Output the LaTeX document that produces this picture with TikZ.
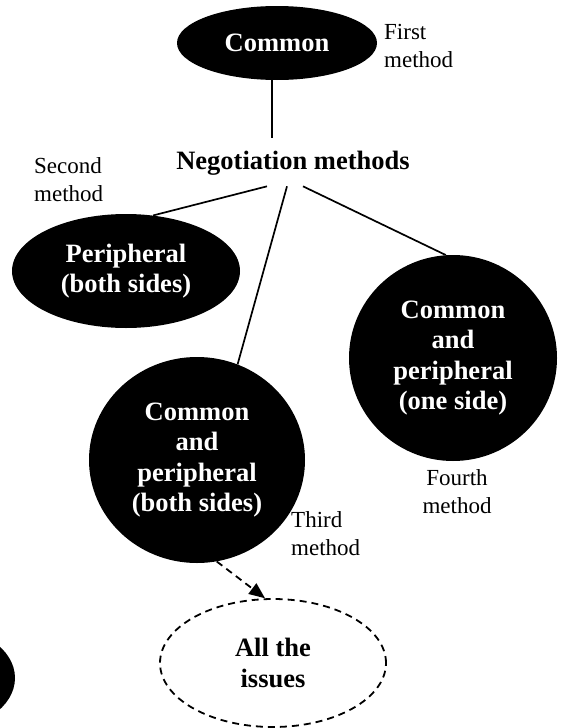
\documentclass[tikz,border=0pt]{standalone}
\usepackage{fontspec}
\setmainfont{Liberation Serif}
\usetikzlibrary{positioning,calc,arrows,arrows.meta,shapes.geometric}
\tikzset{font=\fontsize{23}{28}\selectfont}

\begin{document}
\begin{tikzpicture}[x=1pt,y=-1pt]
	\useasboundingbox (0,0) rectangle (560,728);
	\begin{scope}
		\tikzstyle{every node}=[align=center, inner sep=1pt]
		\tikzstyle{blob}=[ellipse, fill=black, text=white, inner sep=0pt, font=\fontsize{26.5}{30.5}\selectfont\bfseries]
		\tikzstyle{note}=[align=left]
		\tikzstyle{dashline}=[line width=1.8pt, dash pattern=on 7pt off 5pt]
		\node[blob, minimum width=200pt, minimum height=74pt] (common) at (277, 43) {Common};
		\node[font=\fontsize{26.5}{30.5}\selectfont\bfseries] (nego) at (293, 163) {Negotiation methods};
		\node[blob, minimum width=228pt, minimum height=114pt] (periph) at (126, 271) {Peripheral\\(both sides)};
		\node[blob, minimum width=216pt, minimum height=206pt] (both) at (197, 460) {Common\\and\\peripheral\\(both sides)};
		\node[blob, minimum width=208pt, minimum height=206pt] (one) at (453, 358) {Common\\and\\peripheral\\(one side)};
		\node[ellipse, draw, dashline, minimum width=226pt, minimum height=128pt, font=\fontsize{26.5}{30.5}\selectfont\bfseries] (issues) at (273, 663) {All the\\issues};

		\node[note, anchor=west] (first) at (383, 46) {First\\method};
		\node[note, anchor=west] (second) at (33, 180) {Second\\method};
		\node[note, anchor=west] (third) at (290, 534) {Third\\method};
		\node (fourth) at (457, 492) {Fourth\\method};

		\draw [line width=1.7pt] ([xshift=-5pt]common.south) to ([xshift=-21pt, yshift=12pt]nego.north);
		\draw [line width=1.7pt] ([xshift=-26pt, yshift=-10pt]nego.south) to (periph.64);
		\draw [line width=1.7pt] ([xshift=-6pt, yshift=-10pt]nego.south) to (both.67);
		\draw [line width=1.7pt] ([xshift=10pt, yshift=-10pt]nego.south) to (one.94);
		\draw [dashline, -{Triangle[length=16pt, width=13pt]}] (both.281) to (issues.97);
	\end{scope}
	\begin{scope}
		\clip (0,0) rectangle (560,728);
		\fill (-60, 678) ellipse (75pt and 52pt);
	\end{scope}
\end{tikzpicture}
\end{document}
